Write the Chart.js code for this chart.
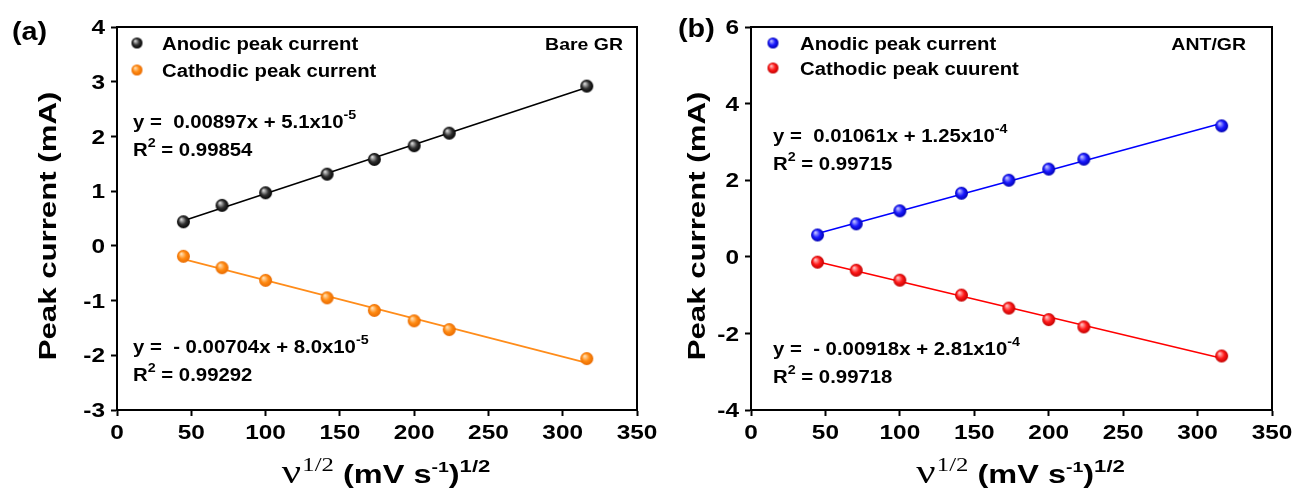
<!DOCTYPE html>
<html><head><meta charset="utf-8">
<script src="https://cdn.jsdelivr.net/npm/chart.js@4.4.1/dist/chart.umd.min.js"></script>
<style>
html,body{margin:0;padding:0;background:#fff}
body{width:1298px;height:488px;overflow:hidden;position:relative}
.w{position:absolute;top:0;height:488px}
</style></head><body>
<div class="w" style="left:0;width:680px"><canvas id="ca"></canvas></div>
<div class="w" style="left:649px;width:649px"><canvas id="cb"></canvas></div>
<script>
// ---------- data ----------
const scanRateRoot = [44.7, 70.7, 100, 141.4, 173.2, 200, 223.6, 316.2];
const anodicBare   = [0.44, 0.74, 0.97, 1.31, 1.58, 1.83, 2.06, 2.92];
const cathodicBare = [-0.19, -0.40, -0.63, -0.95, -1.18, -1.37, -1.53, -2.06];
const anodicAnt    = [0.57, 0.86, 1.20, 1.66, 2.00, 2.29, 2.55, 3.42];
const cathodicAnt  = [-0.14, -0.35, -0.61, -1.00, -1.34, -1.64, -1.83, -2.59];
const xTicks = [0, 50, 100, 150, 200, 250, 300, 350];
const yTicksBare = [-3, -2, -1, 0, 1, 2, 3, 4];
const yTicksAnt = [-4, -2, 0, 2, 4, 6];
const seriesBare = ['Anodic peak current', 'Cathodic peak current'];
const seriesAnt = ['Anodic peak current', 'Cathodic peak cuurent'];
const fitEqBare = [['y =  0.00897x + 5.1x10', '-5', '0.99854'], ['y =  - 0.00704x + 8.0x10', '-5', '0.99292']];
const fitEqAnt  = [['y =  0.01061x + 1.25x10', '-4', '0.99715'], ['y =  - 0.00918x + 2.81x10', '-4', '0.99718']];
const yTitle = 'Peak current (mA)';

// ---------- helpers ----------
const SANS = '"Liberation Sans", Arial, sans-serif';
const SERIF = '"Liberation Serif", "Times New Roman", serif';
function drawRich(ctx, segs, x, y, align, stretch, rotate) {
  ctx.save();
  let w = 0;
  for (const s of segs) {
    ctx.font = (s.weight || 'bold') + ' ' + s.size + 'px ' + (s.family || SANS);
    s.w = ctx.measureText(s.t).width + (s.dx || 0); w += s.w;
  }
  ctx.translate(x, y);
  if (rotate) ctx.rotate(-Math.PI / 2);
  let start = align === 'center' ? -w * stretch / 2 : align === 'right' ? -w * stretch : 0;
  ctx.translate(start, 0);
  ctx.scale(stretch, 1);
  ctx.textBaseline = 'alphabetic';
  ctx.fillStyle = '#000';
  let cx = 0;
  for (const s of segs) {
    ctx.font = (s.weight || 'bold') + ' ' + s.size + 'px ' + (s.family || SANS);
    ctx.fillText(s.t, cx + (s.dx || 0), s.dy || 0);
    cx += s.w;
  }
  ctx.restore();
}
function sphere(r, light, base, dark) {
  const c = document.createElement('canvas');
  const s = Math.ceil(2 * r + 2);
  c.width = c.height = s;
  const g = c.getContext('2d');
  const cx = s / 2, cy = s / 2;
  const grad = g.createRadialGradient(cx - r * 0.35, cy - r * 0.4, r * 0.05, cx, cy, r);
  grad.addColorStop(0, light); grad.addColorStop(0.55, base); grad.addColorStop(1, dark);
  g.fillStyle = grad; g.beginPath(); g.arc(cx, cy, r, 0, 2 * Math.PI); g.fill();
  return c;
}
function fitLine(xs, ys) {
  const n = xs.length;
  const mx = xs.reduce((a, b) => a + b, 0) / n, my = ys.reduce((a, b) => a + b, 0) / n;
  let sxy = 0, sxx = 0;
  for (let i = 0; i < n; i++) { sxy += (xs[i] - mx) * (ys[i] - my); sxx += (xs[i] - mx) ** 2; }
  const m = sxy / sxx, b = my - m * mx;
  return [{ x: xs[0], y: m * xs[0] + b }, { x: xs[n - 1], y: m * xs[n - 1] + b }];
}
const pts = (xs, ys) => xs.map((x, i) => ({ x, y: ys[i] }));

function makePanel(id, cfg) {
  const sA = sphere(6.5, cfg.c1[0], cfg.c1[1], cfg.c1[2]);
  const sC = sphere(6.5, cfg.c2[0], cfg.c2[1], cfg.c2[2]);
  const lA = sphere(5.5, cfg.c1[0], cfg.c1[1], cfg.c1[2]);
  const lC = sphere(5.5, cfg.c2[0], cfg.c2[1], cfg.c2[2]);
  const TS = 20, TST = 1.22;
  const deco = {
    id: 'deco' + id,
    afterDraw(chart) {
      const ctx = chart.ctx, a = chart.chartArea;
      const xs = chart.scales.x, ys = chart.scales.y;
      ctx.save();
      ctx.strokeStyle = '#000'; ctx.lineWidth = 2;
      ctx.strokeRect(a.left, a.top, a.right - a.left, a.bottom - a.top);
      ctx.restore();
      // tick labels
      for (const v of cfg.yTicks) {
        const py = ys.getPixelForValue(v);
        drawRich(ctx, [{ t: String(v), size: TS }], a.left - 12, py + TS * 0.36, 'right', TST);
      }
      for (const v of xTicks) {
        const px = xs.getPixelForValue(v);
        drawRich(ctx, [{ t: String(v), size: TS }], px, 439, 'center', TST);
      }
      // y title
      drawRich(ctx, [{ t: yTitle, size: 24 }], 56, 226, 'center', 1.3, true);
      // x title
      drawRich(ctx, [
        { t: 'ν', size: 33, family: SERIF, weight: 'normal' },
        { t: '1/2', size: 19, family: SERIF, weight: 'normal', dy: -12, dx: 1 },
        { t: ' (mV s', size: 25 },
        { t: '-1', size: 15, dy: -11 },
        { t: ')', size: 25 },
        { t: '1/2', size: 17, dy: -11 }
      ], (a.left + a.right) / 2 + 9, 483, 'center', 1.3);
      // panel label
      drawRich(ctx, [{ t: cfg.panel, size: 25 }], cfg.panelX, cfg.panelY, 'left', 1.15);
      // legend
      const names = cfg.names;
      ctx.drawImage(lA, cfg.legX - lA.width / 2, cfg.legY[0] - lA.height / 2);
      ctx.drawImage(lC, cfg.legX - lC.width / 2, cfg.legY[1] - lC.height / 2);
      drawRich(ctx, [{ t: names[0], size: 17.5 }], cfg.legTX, cfg.legY[0] + 6.5, 'left', 1.16);
      drawRich(ctx, [{ t: names[1], size: 17.5 }], cfg.legTX, cfg.legY[1] + 6.5, 'left', 1.16);
      // sample tag
      drawRich(ctx, [{ t: cfg.tag, size: 16.5 }], cfg.tagX, 50, 'right', 1.18);
      // equations
      cfg.eqs.forEach((e, i) => {
        const yy = cfg.eqY[i];
        drawRich(ctx, [{ t: e[0], size: 18.5 }, { t: e[1], size: 13, dy: -9 }], cfg.eqX, yy + 7, 'left', 1.1);
        drawRich(ctx, [{ t: 'R', size: 18.5 }, { t: '2', size: 13, dy: -9 }, { t: ' = ' + e[2], size: 18.5 }], cfg.eqX, yy + 35, 'left', 1.1);
      });
    }
  };
  const scaleCommon = {
    type: 'linear',
    grid: { display: true, drawOnChartArea: false, drawTicks: true, tickLength: 6, tickWidth: 2, color: '#000' },
    border: { display: true, color: '#000', width: 2 },
    ticks: { display: false }
  };
  return new Chart(document.getElementById(id), {
    type: 'scatter',
    data: {
      datasets: [
        { label: cfg.names[0], data: pts(scanRateRoot, cfg.an), pointStyle: sA, pointRadius: 6.5, order: 0 },
        { label: cfg.names[1], data: pts(scanRateRoot, cfg.ca), pointStyle: sC, pointRadius: 6.5, order: 0 },
        { type: 'line', data: fitLine(scanRateRoot, cfg.an), borderColor: cfg.l1, borderWidth: 1.6, pointRadius: 0, order: 1 },
        { type: 'line', data: fitLine(scanRateRoot, cfg.ca), borderColor: cfg.l2, borderWidth: 1.6, pointRadius: 0, order: 1 }
      ]
    },
    options: {
      responsive: true, maintainAspectRatio: false, animation: false,
      layout: { padding: { left: 0, top: 27, right: cfg.padR, bottom: 0 } },
      plugins: { legend: { display: false }, tooltip: { enabled: false } },
      scales: {
        x: Object.assign({}, scaleCommon, {
          min: 0, max: 350,
          ticks: { display: false, stepSize: 50 },
          afterFit(s) { s.height = 78; }
        }),
        y: Object.assign({}, scaleCommon, {
          min: cfg.yTicks[0], max: cfg.yTicks[cfg.yTicks.length - 1],
          ticks: { display: false, stepSize: cfg.yTicks[1] - cfg.yTicks[0] },
          afterFit(s) { s.width = cfg.left; }
        })
      }
    },
    plugins: [deco]
  });
}

makePanel('ca', {
  an: anodicBare, ca: cathodicBare, yTicks: yTicksBare, names: seriesBare, eqs: fitEqBare,
  c1: ['#e0e0e0', '#333333', '#000000'], c2: ['#ffe2b8', '#ff8a12', '#e86a00'],
  l1: '#000000', l2: '#ff8c1a', left: 117, padR: 43,
  panel: '(a)', panelX: 12, panelY: 40, legX: 137, legY: [43, 70], legTX: 162,
  tag: 'Bare GR', tagX: 623, eqX: 133, eqY: [121, 346]
});
makePanel('cb', {
  an: anodicAnt, ca: cathodicAnt, yTicks: yTicksAnt, names: seriesAnt, eqs: fitEqAnt,
  c1: ['#c8c8ff', '#1a1aff', '#0000b0'], c2: ['#ffcaca', '#ff1a1a', '#c00000'],
  l1: '#0000ff', l2: '#ff0000', left: 102, padR: 26,
  panel: '(b)', panelX: 29, panelY: 37, legX: 124, legY: [43, 68], legTX: 151,
  tag: 'ANT/GR', tagX: 597, eqX: 124, eqY: [135, 348]
});
</script>
</body></html>
